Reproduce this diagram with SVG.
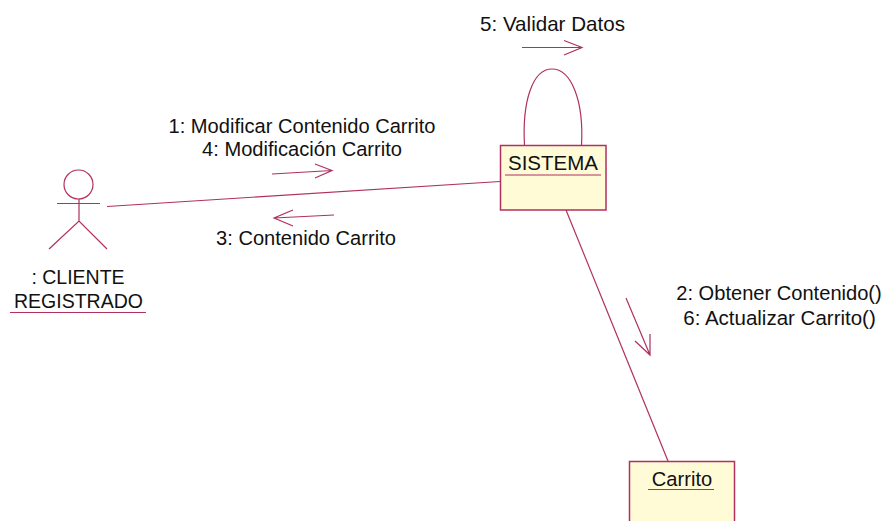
<svg xmlns="http://www.w3.org/2000/svg" width="884" height="521" viewBox="0 0 884 521">
<style>
.l{fill:none;stroke:#b03060;stroke-width:1.2}
.b{fill:#fffbd6;stroke:#b03060;stroke-width:1.5}
text{font-family:"Liberation Sans",Arial,sans-serif;font-size:20.100px;fill:#111;text-anchor:middle}
</style>
<rect width="884" height="521" fill="#fff"/>
<g id="connectors">
<path class="l" d="M107 206.500L500 181.500"/>
<path class="l" d="M566 210L668 461"/>
<path class="l" d="M524.500 145.500C522 100 533 69 552 69C571 69 584 100 581.500 145.500"/>
<path class="l" d="M272 174L332 170.500M315 164L332 170.500L315 178"/>
<path class="l" d="M334 215L274 218M293 210L274 218L293 226"/>
<path class="l" d="M522 47.500H582M564 40.500L582 47.500L564 55"/>
<path class="l" d="M626 298L650 355M635 341L650 355L650 334"/>
</g>
<g id="labels">
<text x="302" y="133">1: Modificar Contenido Carrito</text>
<text x="302" y="156">4: Modificación Carrito</text>
<text x="306" y="245">3: Contenido Carrito</text>
<text x="552.500" y="31" style="font-size:20.600px">5: Validar Datos</text>
<text x="779" y="300">2: Obtener Contenido()</text>
<text x="779.500" y="325" style="font-size:20.500px">6: Actualizar Carrito()</text>
</g>
<g id="actor-cliente">
<circle class="l" cx="78.500" cy="184.500" r="14.500"/>
<path class="l" d="M57 203.500H100M79 199V221M49 249L79 221L107 249"/>
<text x="78" y="284" style="font-size:19.500px">: CLIENTE</text>
<text x="78.500" y="308" style="font-size:19.500px">REGISTRADO</text>
<path class="l" d="M10 312.500H146"/>
</g>
<g id="node-sistema">
<rect class="b" x="500.500" y="145.500" width="105.500" height="64.500"/>
<text x="553" y="170" style="font-size:20.500px">SISTEMA</text>
<path class="l" d="M505 175H601"/>
</g>
<g id="node-carrito">
<rect class="b" x="629.500" y="461.500" width="105" height="70"/>
<text x="682" y="486">Carrito</text>
<path class="l" d="M648 489.500H714"/>
</g>
</svg>
